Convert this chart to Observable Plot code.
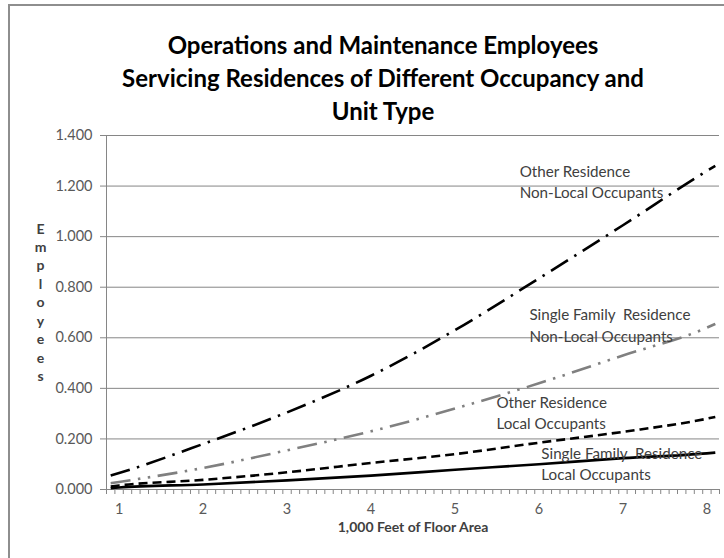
<!DOCTYPE html>
<html>
<head>
<meta charset="utf-8">
<script src="https://cdn.jsdelivr.net/npm/d3@7"></script>
<script src="https://cdn.jsdelivr.net/npm/@observablehq/plot@0.6"></script>
<style>
  html, body { margin: 0; padding: 0; background: #fff; }
  #wrap { position: relative; width: 724px; height: 558px; overflow: hidden; }
  #frame { position: absolute; left: 8px; top: 4px; width: 740px; height: 600px; border: 2px solid #8e8e8e; box-sizing: border-box; }
  #chart { position: absolute; left: 0; top: 0; }
</style>
</head>
<body>
<div id="wrap"><div id="frame"></div><div id="chart"></div></div>
<script>
const titleText = "Operations and Maintenance Employees\nServicing Residences of Different Occupancy and\nUnit Type";
const xLabel = "1,000 Feet of Floor Area";
const yLabel = "Employees";

const xs = [0.9, 1, 2, 3, 4, 5, 6, 7, 8, 8.1];
const otherNonLocal  = [0.055, 0.065, 0.18, 0.305, 0.45, 0.63, 0.835, 1.045, 1.26, 1.28];
const singleNonLocal = [0.025, 0.03, 0.085, 0.155, 0.23, 0.32, 0.42, 0.53, 0.64, 0.655];
const otherLocal     = [0.012, 0.016, 0.038, 0.068, 0.105, 0.14, 0.185, 0.228, 0.28, 0.287];
const singleLocal    = [0.005, 0.008, 0.02, 0.036, 0.055, 0.078, 0.10, 0.124, 0.143, 0.146];

const yTicks = [0, 0.2, 0.4, 0.6, 0.8, 1.0, 1.2, 1.4];
const xTickLabels = [1, 2, 3, 4, 5, 6, 7, 8];
const xCategoryBounds = d3.range(0, 74).map(i => +(0.85 + i * 0.1).toFixed(2));

const annoText = ["Other Residence\nNon-Local Occupants", "Single Family  Residence\nNon-Local Occupants", "Other Residence\nLocal Occupants", "Single Family  Residence\nLocal Occupants"];
const annoX = [5.77, 5.886, 5.493, 6.028];
const annoY = [1.220, 0.654, 0.308, 0.107];

const series = [
  {name: "Other Non-Local", values: otherNonLocal, stroke: "#000", dash: "20,7.5,2.5,7.5"},
  {name: "Single Non-Local", values: singleNonLocal, stroke: "#808080", dash: "20,7.5,2.5,7.5,2.5,7.5"},
  {name: "Other Local", values: otherLocal, stroke: "#000", dash: "9,5"},
  {name: "Single Local", values: singleLocal, stroke: "#000", dash: null}
];
const lineMarks = series.map(s => Plot.line(xs.map((x, i) => ({x, y: s.values[i]})), {
  x: "x", y: "y", stroke: s.stroke, strokeWidth: 2.6, strokeDasharray: s.dash, strokeLinecap: "butt", strokeLinejoin: "round", curve: "monotone-x"
}));
const annos = annoText.map((t, i) => ({t, x: annoX[i], y: annoY[i]}));

const chart = Plot.plot({
  width: 724, height: 558,
  marginLeft: 106, marginRight: 5, marginTop: 135, marginBottom: 69,
  x: {domain: [0.85, 8.15]},
  y: {domain: [0, 1.4]},
  style: {fontFamily: "Lato, sans-serif", background: "transparent", overflow: "visible"},
  marks: [
    Plot.gridY(yTicks, {stroke: "#868686", strokeOpacity: 1, strokeWidth: 1}),
    Plot.axisY(yTicks, {tickFormat: d => d.toFixed(3), tickSize: 6, tickPadding: 8, fontSize: 14.5, fill: "#595959", stroke: "#868686", label: null}),
    Plot.axisX(xCategoryBounds, {tickFormat: () => "", tickSize: 5, stroke: "#868686", label: null}),
    Plot.axisX(xTickLabels, {tickSize: 0, tickPadding: 14, fontSize: 14.5, fill: "#595959", label: null}),
    Plot.ruleX([0.85], {stroke: "#868686"}),
    Plot.ruleY([0], {stroke: "#868686"}),
    ...lineMarks,
    Plot.text(annos, {x: "x", y: "y", text: "t", textAnchor: "start", lineAnchor: "middle", lineHeight: 1.4, fontSize: 15.2, fill: "#404040"}),
    Plot.text([xLabel], {frameAnchor: "bottom", dy: 42, fontSize: 14, fontWeight: "bold", fill: "#404040"}),
    Plot.text([yLabel.split("").join("\n")], {frameAnchor: "left", dx: -66, dy: -11, textAnchor: "middle", lineHeight: 1.32, fontSize: 14, fontWeight: "bold", fill: "#404040"}),
    Plot.text([titleText], {frameAnchor: "top", dx: -30, dy: -59, lineAnchor: "middle", lineHeight: 1.38, fontSize: 24, fontWeight: "bold", fill: "#000"})
  ]
});
document.getElementById("chart").appendChild(chart);
</script>
</body>
</html>
